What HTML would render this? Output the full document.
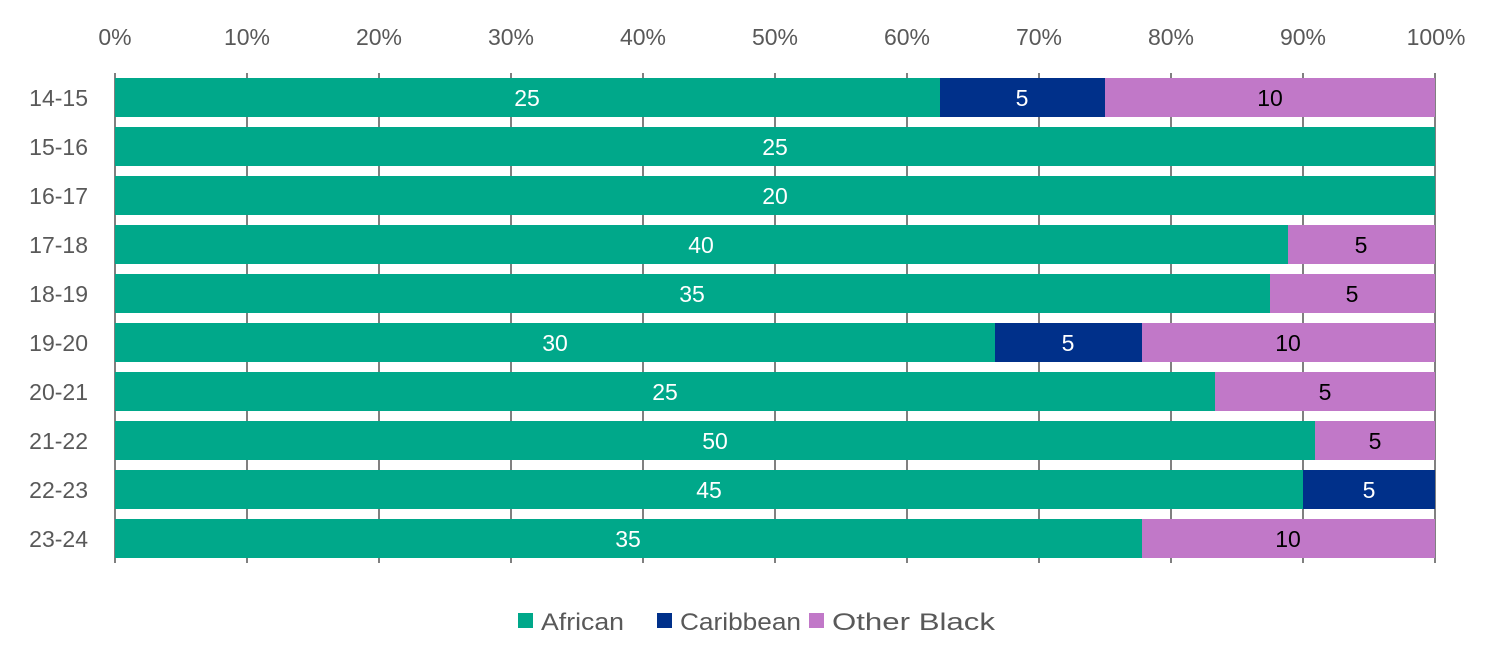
<!DOCTYPE html>
<html><head><meta charset="utf-8"><style>body{margin:0;background:#fff}svg{display:block}</style></head><body>
<svg width="1500" height="666" viewBox="0 0 1500 666" xmlns="http://www.w3.org/2000/svg" font-family="Liberation Sans, sans-serif" font-size="23">
<g stroke="#808080" stroke-width="2">
<line x1="115" y1="73" x2="115" y2="563"/><line x1="247" y1="73" x2="247" y2="563"/><line x1="379" y1="73" x2="379" y2="563"/><line x1="511" y1="73" x2="511" y2="563"/><line x1="643" y1="73" x2="643" y2="563"/><line x1="775" y1="73" x2="775" y2="563"/><line x1="907" y1="73" x2="907" y2="563"/><line x1="1039" y1="73" x2="1039" y2="563"/><line x1="1171" y1="73" x2="1171" y2="563"/><line x1="1303" y1="73" x2="1303" y2="563"/><line x1="1435" y1="73" x2="1435" y2="563"/>
</g>
<g fill="#595959" text-anchor="middle">
<text x="115" y="45">0%</text><text x="247" y="45">10%</text><text x="379" y="45">20%</text><text x="511" y="45">30%</text><text x="643" y="45">40%</text><text x="775" y="45">50%</text><text x="907" y="45">60%</text><text x="1039" y="45">70%</text><text x="1171" y="45">80%</text><text x="1303" y="45">90%</text><text x="1436" y="45">100%</text>
</g>
<g fill="#595959" text-anchor="end">
<text x="88" y="106">14-15</text><text x="88" y="155">15-16</text><text x="88" y="204">16-17</text><text x="88" y="253">17-18</text><text x="88" y="302">18-19</text><text x="88" y="351">19-20</text><text x="88" y="400">20-21</text><text x="88" y="449">21-22</text><text x="88" y="498">22-23</text><text x="88" y="547">23-24</text>
</g>
<g>
<rect x="115" y="78" width="825" height="39" fill="#00A88A"/><rect x="940" y="78" width="165" height="39" fill="#00308A"/><rect x="1105" y="78" width="330" height="39" fill="#C178C8"/>
<rect x="115" y="127" width="1320" height="39" fill="#00A88A"/>
<rect x="115" y="176" width="1320" height="39" fill="#00A88A"/>
<rect x="115" y="225" width="1173" height="39" fill="#00A88A"/><rect x="1288" y="225" width="147" height="39" fill="#C178C8"/>
<rect x="115" y="274" width="1155" height="39" fill="#00A88A"/><rect x="1270" y="274" width="165" height="39" fill="#C178C8"/>
<rect x="115" y="323" width="880" height="39" fill="#00A88A"/><rect x="995" y="323" width="147" height="39" fill="#00308A"/><rect x="1142" y="323" width="293" height="39" fill="#C178C8"/>
<rect x="115" y="372" width="1100" height="39" fill="#00A88A"/><rect x="1215" y="372" width="220" height="39" fill="#C178C8"/>
<rect x="115" y="421" width="1200" height="39" fill="#00A88A"/><rect x="1315" y="421" width="120" height="39" fill="#C178C8"/>
<rect x="115" y="470" width="1188" height="39" fill="#00A88A"/><rect x="1303" y="470" width="132" height="39" fill="#00308A"/>
<rect x="115" y="519" width="1027" height="39" fill="#00A88A"/><rect x="1142" y="519" width="293" height="39" fill="#C178C8"/>
</g>
<g text-anchor="middle" fill="#fff">
<text x="527" y="106">25</text><text x="1022" y="106">5</text>
<text x="775" y="155">25</text><text x="775" y="204">20</text>
<text x="701" y="253">40</text><text x="692" y="302">35</text>
<text x="555" y="351">30</text><text x="1068" y="351">5</text>
<text x="665" y="400">25</text><text x="715" y="449">50</text>
<text x="709" y="498">45</text><text x="1369" y="498">5</text>
<text x="628" y="547">35</text>
</g>
<g text-anchor="middle" fill="#000">
<text x="1270" y="106">10</text><text x="1361" y="253">5</text><text x="1352" y="302">5</text>
<text x="1288" y="351">10</text><text x="1325" y="400">5</text><text x="1375" y="449">5</text><text x="1288" y="547">10</text>
</g>
<g fill="#595959" font-size="24">
<rect x="518" y="613" width="15" height="15" fill="#00A88A"/><text x="541" y="630" textLength="83" lengthAdjust="spacingAndGlyphs">African</text>
<rect x="657" y="613" width="15" height="15" fill="#00308A"/><text x="680" y="630" textLength="121" lengthAdjust="spacingAndGlyphs">Caribbean</text>
<rect x="809" y="613" width="15" height="15" fill="#C178C8"/><text x="832" y="630" textLength="163" lengthAdjust="spacingAndGlyphs">Other Black</text>
</g>
</svg>
</body></html>
